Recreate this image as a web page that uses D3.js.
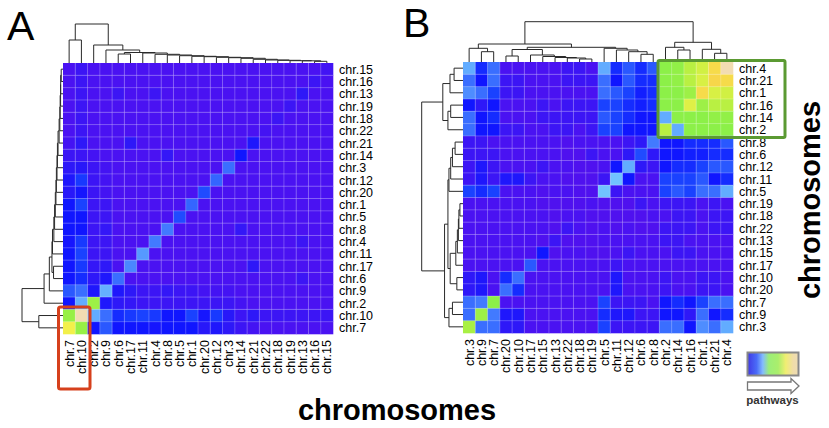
<!DOCTYPE html>
<html><head><meta charset="utf-8">
<script src="https://cdn.jsdelivr.net/npm/d3@7"></script>
<style>
body{margin:0;background:#fff}
svg{display:block}
text{font-family:"Liberation Sans",Arial,Helvetica,sans-serif}
</style>
</head><body>
<svg id="c" width="829" height="428"></svg>
<script>
// ---------- Panel A ----------
const rowsA = ["chr.15","chr.16","chr.13","chr.19","chr.18","chr.22","chr.21","chr.14","chr.3","chr.12","chr.20","chr.1","chr.5","chr.8","chr.4","chr.11","chr.17","chr.6","chr.9","chr.2","chr.10","chr.7"];
const colsA = ["chr.7","chr.10","chr.2","chr.9","chr.6","chr.17","chr.11","chr.4","chr.8","chr.5","chr.1","chr.20","chr.12","chr.3","chr.14","chr.21","chr.22","chr.18","chr.19","chr.13","chr.16","chr.15"];
// lower triangle: triA[i][k] = value(rowsA[i], rowsA[k]), k <= i
const triA = [
 [1.3],
 [1,1.5],
 [1,1,2],
 [1,1,1,1.5],
 [1,1,1,1,1.5],
 [1,1,1,1,1,1.2],
 [1,1,1,1,1,1,2.5],
 [1,1,1,1,1,1,1,3],
 [1,1,1,1,1,1,1,1,5],
 [1,1,1,1,1,1,1,1,1,4.8],
 [1,1,1,1,1,1,1,1,1,1,4.2],
 [1,1,1,1,1,1,1,1,1,1,1,4.8],
 [1,1,1,1,1,1,1,1,1,1,1,1,4.2],
 [1,1,1,1,1,1,1,1.8,1,1,1,1,1,5.2],
 [1,1,1.5,1,1,1,1,1,1,1,1,1,1,1,5.2],
 [1,1,1,1,1,1,1,1,1,1,1,1,1,1,1,5.7],
 [1,1,1,1,1,1,2,1,1,1,1,1,1,1,1,1,5.4],
 [1,1,1.5,1,1,1,1,1,1,1,1,1,1,1,1,1,1,5],
 [1,1,1,1,1,1,1,1,1.2,1.2,1.2,1.5,1.5,1.8,1.5,1.5,2,2.5,6.1],
 [1,1,1,1,1,1,1,1.2,1.5,1.5,1.5,1.5,1.5,1.5,1.5,1.5,1.8,2,2.5,7.3],
 [1.5,1.5,1.5,1.5,1.5,1.5,2,1.5,2.2,3.8,2.8,4,3,3,3.8,4,3.8,3.5,5,6,10],
 [1,1,1,1,1,1,1.2,1.5,2,2.5,2.2,3,3,3,2.8,3,3,3,4.5,3,7.2,8.7]
];
// dendrogram merges: [childA, childB, height]; numbers refer to earlier merges
const mergesA = [
 ["chr.16","chr.15",1.7],
 ["chr.13",0,2.2],
 ["chr.19",1,2.3],
 ["chr.18",2,2.7],
 ["chr.22",3,3],
 ["chr.21",4,3.7],
 ["chr.14",5,4.7],
 ["chr.3",6,5.3],
 ["chr.12",7,5.7],
 ["chr.20",8,6.3],
 ["chr.1",9,6.7],
 ["chr.5",10,7.3],
 ["chr.8",11,8],
 ["chr.4",12,8.7],
 ["chr.11",13,10],
 ["chr.6","chr.17",9],
 [15,14,10.5],
 ["chr.9",16,13],
 ["chr.2",17,18],
 ["chr.7","chr.10",23],
 [19,18,39]
];

// ---------- Panel B ----------
const rowsB = ["chr.4","chr.21","chr.1","chr.16","chr.14","chr.2","chr.8","chr.6","chr.12","chr.11","chr.5","chr.19","chr.18","chr.22","chr.13","chr.15","chr.17","chr.10","chr.20","chr.7","chr.9","chr.3"];
const colsB = ["chr.3","chr.9","chr.7","chr.20","chr.10","chr.17","chr.15","chr.13","chr.22","chr.18","chr.19","chr.5","chr.11","chr.12","chr.6","chr.8","chr.2","chr.14","chr.16","chr.1","chr.21","chr.4"];
const triB = [
 [10],
 [9.2,9.3],
 [8.2,8.3,9.2],
 [7.8,7.8,7.3,8.4],
 [7.1,7.1,7,7,7],
 [7,7,7,7,6,7.8],
 [4.5,3.5,3.5,3.5,3,3,5.2],
 [3.5,3.5,3.2,3.2,3,3,2,4.2],
 [4.5,4.5,4,3.5,3.5,3,1.5,2,6],
 [3.5,3,4.5,4,4,4,1,1,3,6.5],
 [6,5,5,4,4.5,4,1,1,1,1.5,6.5],
 [1,1.5,1,1.5,1.5,1.5,1,1.5,0.5,0.5,0.5,1],
 [1.5,1.5,1,1.5,1.5,1,1,0.5,0.5,0.5,0.5,0.5,1],
 [1.5,1.5,1,1.5,1.5,1.5,0.5,0.5,1,0.5,1,0.5,1,1.5],
 [1,1,1,1,1.5,1.5,1,1,1,1,1,0.5,0.5,0.5,1.5],
 [1,1,1,1.5,1.5,1,1,1,1.5,1,0.5,0.5,1,1,0.5,3],
 [1,1,1,1,1,1,1,1,1,1.5,1,1,1,1,1,1,4.5],
 [1,1.5,1.5,1,1,1.5,1,1,1,2.5,1,1,1,1,1,1,1,5],
 [1,1.5,1.5,1,1,1.5,1,1,1,2.5,1,1,1,1,1,1,1,3.5,5],
 [5,5,4,3,3.5,3,1,1.5,1.5,1.5,4,1,1,1,1,1,1,1,1,7],
 [3.5,3,5,2,3,3,1.5,1.5,2.5,2.5,3.5,1,1,1,1,1,1,2.5,2.5,5.2,7.3],
 [6,5,5.5,3,5,5,1.5,1.5,1.5,1.5,4,1,1,1,1,1,1,2,2,5,5,7.5]
];
const mergesB = [
 ["chr.9","chr.7",10.3],
 ["chr.3",0,13.7],
 ["chr.20","chr.10",6],
 ["chr.18","chr.19",3],
 ["chr.22",3,4],
 ["chr.13",4,4.5],
 ["chr.15",5,5.5],
 ["chr.17",6,7],
 [2,7,12.5],
 ["chr.6","chr.8",7.7],
 ["chr.12",9,10.3],
 ["chr.11",10,12],
 ["chr.5",11,13.7],
 [8,12,14.7],
 [1,13,18],
 ["chr.14","chr.16",12],
 ["chr.2",15,14.7],
 ["chr.21","chr.4",8.7],
 ["chr.1",17,12.7],
 [16,18,19.7],
 [14,19,40.3]
];

// colour scale levels and legend
const levels = [0,1,2,3,4,5,6,6.6,7,8,8.7,9.4,10];
const levelColors = ["#5410ec","#4a12f2","#2e18f8","#1016ff","#1a42ff","#3a6eff","#62acff","#74c6ff","#8cf048","#c4f040","#f2f04a","#f8d24a","#f2dcb2"];
const legendStops = [[0,"#4038e4"],[0.18,"#4a6cf8"],[0.3,"#84bcff"],[0.42,"#9cee78"],[0.6,"#aaee6c"],[0.75,"#f0ee72"],[0.9,"#f0dcaa"],[1,"#ecdcb4"]];

const color = d3.scaleLinear().domain(levels).range(levelColors).interpolate(d3.interpolateRgb);
const svg = d3.select("#c");
svg.append("rect").attr("width",829).attr("height",428).attr("fill","#fff");

function panel(cfg){
  const g = svg.append("g");
  const x = d3.scaleBand().domain(cfg.cols).range([cfg.x0,cfg.x1]);
  const y = d3.scaleBand().domain(cfg.rows).range([cfg.y0,cfg.y1]);
  const idx = new Map(cfg.rows.map((r,i)=>[r,i]));
  const val = (a,b)=>{const i=idx.get(a),k=idx.get(b);return i>=k?cfg.tri[i][k]:cfg.tri[k][i];};
  const cells=[];
  cfg.rows.forEach(r=>cfg.cols.forEach(c=>cells.push({r,c,v:val(r,c)})));
  g.selectAll("rect.cell").data(cells).join("rect").attr("class","cell")
   .attr("x",d=>x(d.c)).attr("y",d=>y(d.r))
   .attr("width",x.bandwidth()+0.3).attr("height",y.bandwidth()+0.3)
   .attr("fill",d=>color(d.v));
  // grid lines
  g.selectAll("line.v").data(cfg.cols.slice(1)).join("line").attr("class","v")
   .attr("x1",d=>x(d)).attr("x2",d=>x(d)).attr("y1",cfg.y0).attr("y2",cfg.y1)
   .attr("stroke","rgba(255,255,255,0.32)").attr("stroke-width",0.8);
  g.selectAll("line.h").data(cfg.rows.slice(1)).join("line").attr("class","h")
   .attr("y1",d=>y(d)).attr("y2",d=>y(d)).attr("x1",cfg.x0).attr("x2",cfg.x1)
   .attr("stroke","rgba(255,255,255,0.32)").attr("stroke-width",0.8);
  // row labels
  g.selectAll("text.rl").data(cfg.rows).join("text").attr("class","rl")
   .attr("x",cfg.x1+6).attr("y",d=>y(d)+y.bandwidth()/2).attr("dy","0.36em")
   .attr("font-size",12.5).attr("fill","#000").text(d=>d);
  // column labels
  g.selectAll("text.cl").data(cfg.cols).join("text").attr("class","cl")
   .attr("transform",d=>`translate(${x(d)+x.bandwidth()/2},${cfg.y1+6}) rotate(-90)`)
   .attr("dy","0.36em").attr("text-anchor","end")
   .attr("font-size",12.5).attr("fill","#000").text(d=>d);
  // dendrograms
  const hTop = d3.scaleLinear().domain([0,cfg.topH]).range([cfg.y0,cfg.topY]);
  const hLeft = d3.scaleLinear().domain([0,cfg.leftH]).range([cfg.x0,cfg.leftX]);
  dendro(g, cfg.merges, c=>x(c)+x.bandwidth()/2, hTop, true);
  dendro(g, cfg.merges, r=>y(r)+y.bandwidth()/2, hLeft, false);
}

function dendro(g, merges, leafPos, hs, top){
  const pos=[];
  const get = ref => typeof ref==="number" ? {p:pos[ref],h:merges[ref][2]} : {p:leafPos(ref),h:0};
  const paths=[];
  merges.forEach((m,i)=>{
    const a=get(m[0]), b=get(m[1]), h=m[2];
    pos[i]=(a.p+b.p)/2;
    const p=d3.path();
    if(top){
      p.moveTo(a.p,hs(a.h)); p.lineTo(a.p,hs(h)); p.lineTo(b.p,hs(h)); p.lineTo(b.p,hs(b.h));
    } else {
      p.moveTo(hs(a.h),a.p); p.lineTo(hs(h),a.p); p.lineTo(hs(h),b.p); p.lineTo(hs(b.h),b.p);
    }
    paths.push(p.toString());
  });
  g.append("g").selectAll("path").data(paths).join("path").attr("d",d=>d)
   .attr("fill","none").attr("stroke","#2a2a2a").attr("stroke-width",1);
}

panel({rows:rowsA, cols:colsA, tri:triA, merges:mergesA,
  x0:63, x1:333, y0:63, y1:334, topH:39, topY:24, leftH:39, leftX:22});
panel({rows:rowsB, cols:colsB, tri:triB, merges:mergesB,
  x0:463, x1:733, y0:62, y1:333, topH:40.3, topY:21.7, leftH:40.3, leftX:421.7});

// highlight boxes
svg.append("rect").attr("x",58.5).attr("y",307).attr("width",31.5).attr("height",82)
  .attr("rx",2).attr("fill","none").attr("stroke","#d6401c").attr("stroke-width",3);
svg.append("rect").attr("x",658).attr("y",60.5).attr("width",127).attr("height",77)
  .attr("rx",1.5).attr("fill","none").attr("stroke","#5b9a32").attr("stroke-width",3);

// panel letters
svg.append("text").attr("x",7).attr("y",40).attr("font-size",41).text("A");
svg.append("text").attr("x",403).attr("y",37).attr("font-size",41).text("B");

// axis titles
svg.append("text").attr("x",397).attr("y",420).attr("text-anchor","middle")
  .attr("font-size",29).attr("font-weight","bold").text("chromosomes");
svg.append("text").attr("transform","translate(820,200) rotate(-90)").attr("text-anchor","middle")
  .attr("font-size",29).attr("font-weight","bold").text("chromosomes");

// legend
const defs = svg.append("defs");
const lg = defs.append("linearGradient").attr("id","lg");
lg.selectAll("stop").data(legendStops).join("stop")
  .attr("offset",d=>d[0]).attr("stop-color",d=>d[1]);
svg.append("rect").attr("x",747.5).attr("y",352.5).attr("width",51).attr("height",23)
  .attr("fill","url(#lg)").attr("stroke","#888").attr("stroke-width",2);
svg.append("path").attr("d","M747.5,382 H791 V378.5 L799,386 L791,393.5 V390 H747.5 Z")
  .attr("fill","#fff").attr("stroke","#777").attr("stroke-width",1.3);
svg.append("text").attr("x",772.5).attr("y",404).attr("text-anchor","middle")
  .attr("font-size",11.5).attr("font-weight","bold").attr("fill","#333").text("pathways");
</script>
</body></html>
